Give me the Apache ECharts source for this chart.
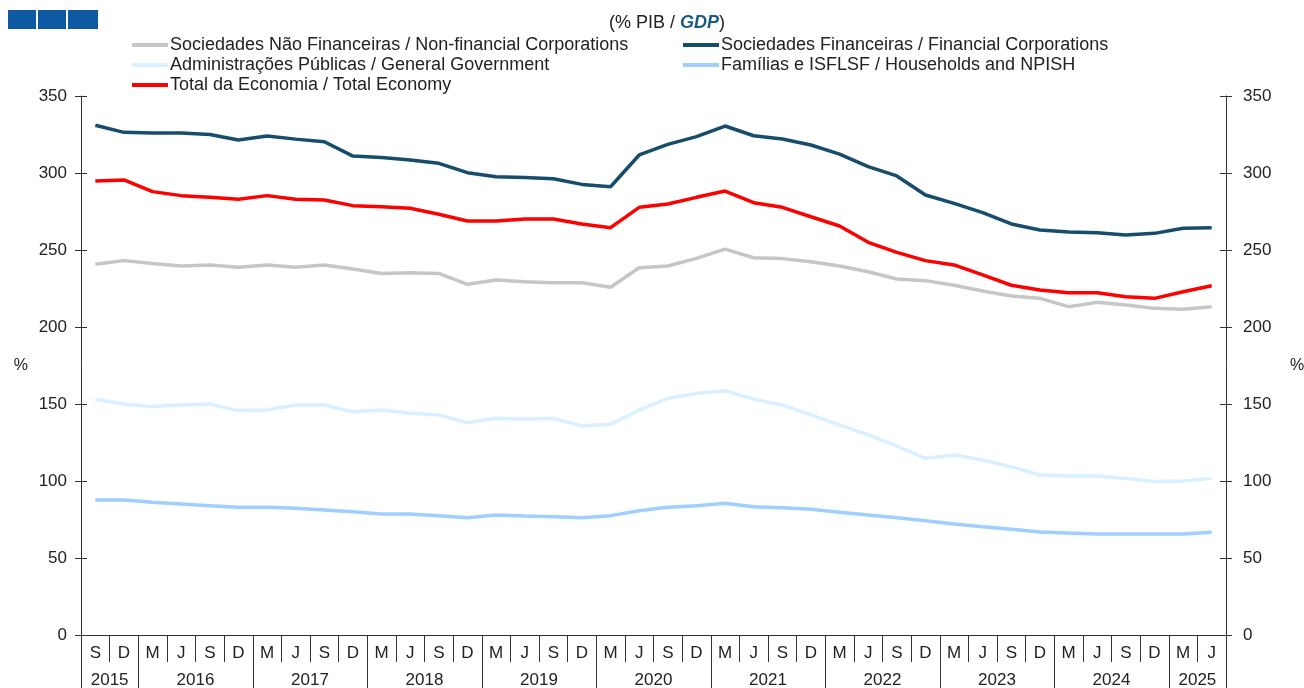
<!DOCTYPE html>
<html>
<head>
<meta charset="utf-8">
<script src="https://cdn.jsdelivr.net/npm/echarts@6/dist/echarts.min.js"></script>
<style>
html,body{margin:0;padding:0;background:#fff;overflow:hidden;width:1304px;height:688px;}
#chart{position:absolute;left:0;top:0;width:1304px;height:688px;}
</style>
</head>
<body>
<div id="chart"></div>
<script>
// ---- data ----
const months = ['S','D',
  'M','J','S','D', 'M','J','S','D', 'M','J','S','D', 'M','J','S','D', 'M','J','S','D',
  'M','J','S','D', 'M','J','S','D', 'M','J','S','D', 'M','J','S','D',
  'M','J'];
const years = ['2015','2016','2017','2018','2019','2020','2021','2022','2023','2024','2025'];
const quartersPerYear = [2,4,4,4,4,4,4,4,4,4,2];

const seriesNames = [
  'Sociedades Não Financeiras / Non-financial Corporations',
  'Sociedades Financeiras / Financial Corporations',
  'Administrações Públicas / General Government',
  'Famílias e ISFLSF / Households and NPISH',
  'Total da Economia / Total Economy'
];

const nonFinancial = [240.7,243.1,241.3,239.6,240.3,238.8,240.3,238.8,240.3,237.7,
  234.8,235.3,234.8,227.7,230.5,229.4,228.8,228.8,225.8,238.5,
  239.6,244.6,250.6,245.0,244.4,242.4,239.6,235.9,231.2,230.1,
  227.1,223.4,220.1,218.6,213.2,216.0,214.3,212.1,211.5,213.2];
const financial = [331.0,326.4,326.0,326.0,325.0,321.4,324.0,322.0,320.3,311.0,
  310.0,308.4,306.3,300.2,297.6,297.0,296.3,292.6,291.1,311.7,
  318.6,323.6,330.5,324.2,322.1,318.2,312.3,304.1,298.1,285.7,
  280.3,274.3,266.9,263.0,261.7,261.2,259.7,260.8,264.1,264.5];
const government = [153.0,150.0,148.3,149.4,150.0,145.7,146.1,149.4,149.4,145.0,
  146.1,144.0,142.9,137.9,140.7,140.3,140.7,135.7,136.8,146.1,
  153.7,156.9,158.6,153.2,149.4,142.9,136.4,129.9,122.7,114.7,
  116.9,113.6,109.3,103.9,103.2,103.2,101.7,99.6,100.0,101.7];
const households = [87.7,87.7,86.2,85.1,84.0,82.9,82.9,82.3,81.2,80.1,
  78.6,78.6,77.5,76.2,77.9,77.3,76.8,76.2,77.5,80.7,
  82.9,84.0,85.5,83.3,82.7,81.6,79.7,77.9,76.2,74.2,
  72.1,70.3,68.6,66.9,66.2,65.6,65.6,65.6,65.6,66.7];
const totalEconomy = [294.8,295.5,287.9,285.3,284.2,282.9,285.3,282.9,282.5,278.8,
  278.1,277.1,273.2,268.8,268.8,270.1,270.1,266.9,264.5,277.7,
  279.9,284.2,288.3,280.7,277.7,271.6,265.6,255.0,248.5,243.1,
  240.3,233.8,227.1,224.0,222.3,222.3,219.7,218.6,222.9,226.8];

const yTicks = [0,50,100,150,200,250,300,350];

// ---- derived: a boundary-point axis (41 points) carrying year labels / separators ----
const boundaryLabels = new Array(months.length + 1).fill('');
const isYearBoundary = new Array(months.length + 1).fill(false);
const isYearCenter = new Array(months.length + 1).fill(false);
(function(){
  let start = 0;
  isYearBoundary[0] = true;
  quartersPerYear.forEach(function(n, i){
    const c = start + n/2;
    boundaryLabels[c] = years[i];
    isYearCenter[c] = true;
    start += n;
    isYearBoundary[start] = true;
  });
})();

const colors = ['#c6c6c6','#164d6c','#d8f0ff','#9fcfff','#ff0000'];
const dataArr = [nonFinancial, financial, government, households, totalEconomy];

const FONT = 'Liberation Sans, Arial, sans-serif';
const chart = echarts.init(document.getElementById('chart'), null, {renderer:'canvas', width:1304, height:688});

const axisLineStyle = {color:'#333', width:1};
const GL = 81, GR = 78;

function yAxisBase(pos, extra){
  return Object.assign({type:'value', gridIndex:0, min:yTicks[0], max:yTicks[yTicks.length-1], interval:50,
    position:pos, splitLine:{show:false}}, extra);
}

chart.setOption({
  animation:false,
  backgroundColor:'#fff',
  textStyle:{fontFamily:FONT},
  title:{
    text:'(% PIB / {g|GDP})',
    left:604, top:9,
    textStyle:{fontFamily:FONT, fontSize:18, fontWeight:'normal', color:'#222',
      rich:{g:{fontFamily:FONT, fontSize:18, fontStyle:'italic', fontWeight:'bold', color:'#1d5a80'}}}
  },
  graphic:[
    {type:'rect', left:8, top:10, shape:{width:28, height:19}, style:{fill:'#0d5aa3'}},
    {type:'rect', left:38, top:10, shape:{width:28, height:19}, style:{fill:'#0d5aa3'}},
    {type:'rect', left:68, top:10, shape:{width:30, height:19}, style:{fill:'#0d5aa3'}}
  ],
  legend:[
    {left:127, top:31, orient:'vertical', itemGap:2, itemWidth:36, itemHeight:4, icon:'rect',
     textStyle:{fontFamily:FONT, fontSize:18, color:'#222', padding:[0,0,0,-3]},
     data:[seriesNames[0], seriesNames[2], seriesNames[4]]},
    {left:678, top:31, orient:'vertical', itemGap:2, itemWidth:36, itemHeight:4, icon:'rect',
     textStyle:{fontFamily:FONT, fontSize:18, color:'#222', padding:[0,0,0,-3]},
     data:[seriesNames[1], seriesNames[3]]}
  ],
  grid:[
    {left:GL, right:GR, top:96, bottom:53, containLabel:false, outerBoundsMode:'none'},
    {left:GL, right:GR, top:662, bottom:0, containLabel:false, outerBoundsMode:'none'}
  ],
  xAxis:[
    {type:'category', gridIndex:0, data:months, boundaryGap:true, position:'bottom',
     axisLine:{show:true, lineStyle:axisLineStyle},
     axisTick:{show:true, interval:0, length:27, lineStyle:axisLineStyle},
     axisLabel:{interval:0, fontFamily:FONT, fontSize:17, color:'#222', margin:10},
     splitLine:{show:false}},
    {type:'category', gridIndex:0, data:boundaryLabels, boundaryGap:false, position:'bottom', offset:27,
     axisLine:{show:false},
     axisTick:{show:false},
     axisLabel:{show:true, interval:function(idx){ return isYearCenter[idx]; },
       fontFamily:FONT, fontSize:17, color:'#222', margin:10},
     splitLine:{show:false}},
    {type:'category', gridIndex:1, data:boundaryLabels, boundaryGap:false, position:'bottom',
     axisLine:{show:false}, axisTick:{show:false}, axisLabel:{show:false},
     splitLine:{show:true, interval:function(idx){ return isYearBoundary[idx]; },
       lineStyle:{color:'#333', width:1}}}
  ],
  yAxis:[
    yAxisBase('left', {
     name:'%', nameLocation:'middle', nameGap:53, nameRotate:0,
     nameTextStyle:{fontFamily:FONT, fontSize:16, color:'#222'},
     axisLine:{show:true, lineStyle:axisLineStyle},
     axisTick:{show:true, length:6, lineStyle:axisLineStyle},
     axisLabel:{fontFamily:FONT, fontSize:17, color:'#222', margin:14}}),
    yAxisBase('right', {
     name:'%', nameLocation:'middle', nameGap:64, nameRotate:0,
     nameTextStyle:{fontFamily:FONT, fontSize:16, color:'#222'},
     axisLine:{show:true, lineStyle:axisLineStyle},
     axisTick:{show:true, length:6, lineStyle:axisLineStyle},
     axisLabel:{fontFamily:FONT, fontSize:17, color:'#222', margin:17}}),
    yAxisBase('left', {
     axisLine:{show:false}, axisLabel:{show:false},
     axisTick:{show:true, inside:true, length:6, lineStyle:axisLineStyle}}),
    yAxisBase('right', {
     axisLine:{show:false}, axisLabel:{show:false},
     axisTick:{show:true, inside:true, length:6, lineStyle:axisLineStyle}}),
    {type:'value', gridIndex:1, min:0, max:1, show:false}
  ],
  series: seriesNames.map(function(name, i){
    return {
      name:name, type:'line', xAxisIndex:0, yAxisIndex:0,
      data:dataArr[i], symbol:'none', smooth:false,
      lineStyle:{color:colors[i], width:3.5},
      itemStyle:{color:colors[i]}
    };
  })
});
</script>
</body>
</html>
